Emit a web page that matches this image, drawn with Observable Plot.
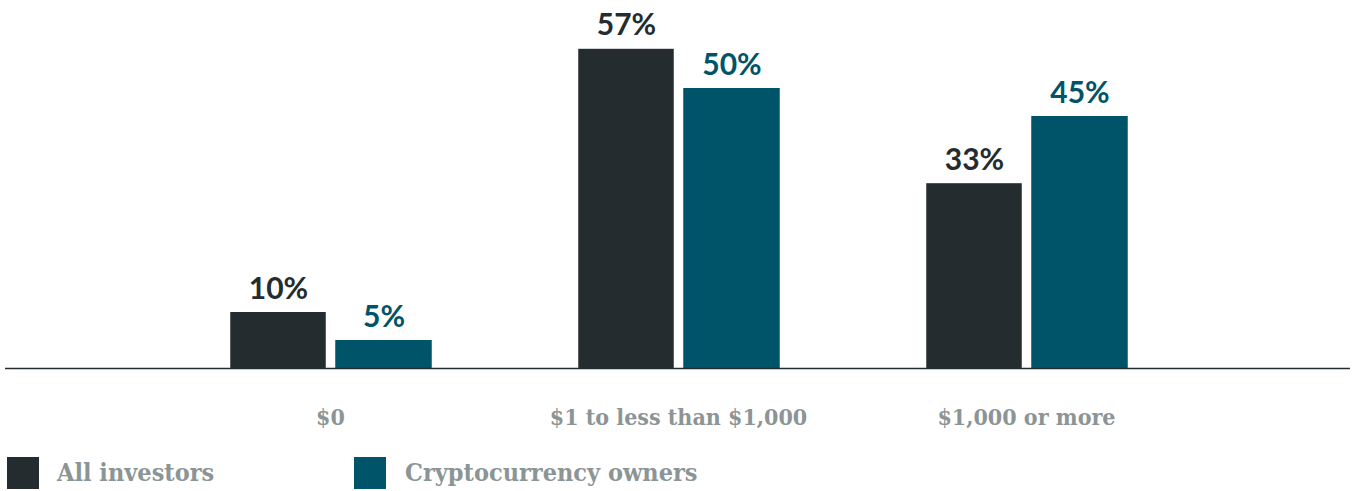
<!DOCTYPE html>
<html>
<head>
<meta charset="utf-8">
<script src="https://cdn.jsdelivr.net/npm/d3@7"></script>
<script src="https://cdn.jsdelivr.net/npm/@observablehq/plot@0.6"></script>
<style>
  html, body { margin: 0; padding: 0; background: #fff; }
  #chart { width: 1352px; }
  .legend { position: relative; height: 51px; font-family: "DejaVu Serif Condensed", "DejaVu Serif", serif; font-weight: bold; color: #8c9596; font-size: 25px; }
  .legend .sw { position: absolute; top: 17px; width: 32px; height: 32px; }
  .legend .lb { position: absolute; top: 17px; line-height: 32px; }
</style>
</head>
<body>
<div id="chart"></div>
<script>
const categories = ["$0", "$1 to less than $1,000", "$1,000 or more"];
const allInvestors = [10, 57, 33];
const cryptoOwners = [5, 50, 45];
const seriesNames = ["All investors", "Cryptocurrency owners"];
const colors = ["#252c2f", "#00546a"];

const rows = categories.map((c, i) => ({cat: c, all: allInvestors[i], crypto: cryptoOwners[i]}));

const plot = Plot.plot({
  width: 1352,
  height: 440,
  marginLeft: 5,
  marginRight: 2,
  marginTop: 32,
  marginBottom: 72,
  x: {domain: categories, paddingInner: 0, paddingOuter: 0.4297, label: null},
  y: {domain: [0, 60], axis: null},
  style: {background: "#fff"},
  marks: [
    Plot.barY(rows, {x: "cat", y: "all", fill: colors[0], insetLeft: 74.25, insetRight: 178.25}),
    Plot.barY(rows, {x: "cat", y: "crypto", fill: colors[1], insetLeft: 179.25, insetRight: 72.25}),
    Plot.text(rows, {x: "cat", y: "all", text: d => d.all + "%", dx: -52, dy: -14, lineAnchor: "bottom", fill: colors[0], fontSize: 30, fontWeight: "bold", fontFamily: "Lato"}),
    Plot.text(rows, {x: "cat", y: "crypto", text: d => d.crypto + "%", dx: 53.5, dy: -14, lineAnchor: "bottom", fill: colors[1], fontSize: 30, fontWeight: "bold", fontFamily: "Lato"}),
    Plot.ruleY([0], {stroke: "#252c2f", strokeWidth: 1.5}),
    Plot.axisX({tickSize: 0, tickPadding: 40, fontSize: 23, fontWeight: "bold", fontFamily: "DejaVu Serif Condensed", fill: "#8c9596", label: null})
  ]
});
document.getElementById("chart").appendChild(plot);

const legend = document.createElement("div");
legend.className = "legend";
const pos = [[7, 57], [354, 405]];
seriesNames.forEach((n, i) => {
  const sw = document.createElement("div");
  sw.className = "sw"; sw.style.left = pos[i][0] + "px"; sw.style.background = colors[i];
  const lb = document.createElement("div");
  lb.className = "lb"; lb.style.left = pos[i][1] + "px"; lb.textContent = n;
  legend.appendChild(sw); legend.appendChild(lb);
});
document.getElementById("chart").appendChild(legend);
</script>
</body>
</html>
